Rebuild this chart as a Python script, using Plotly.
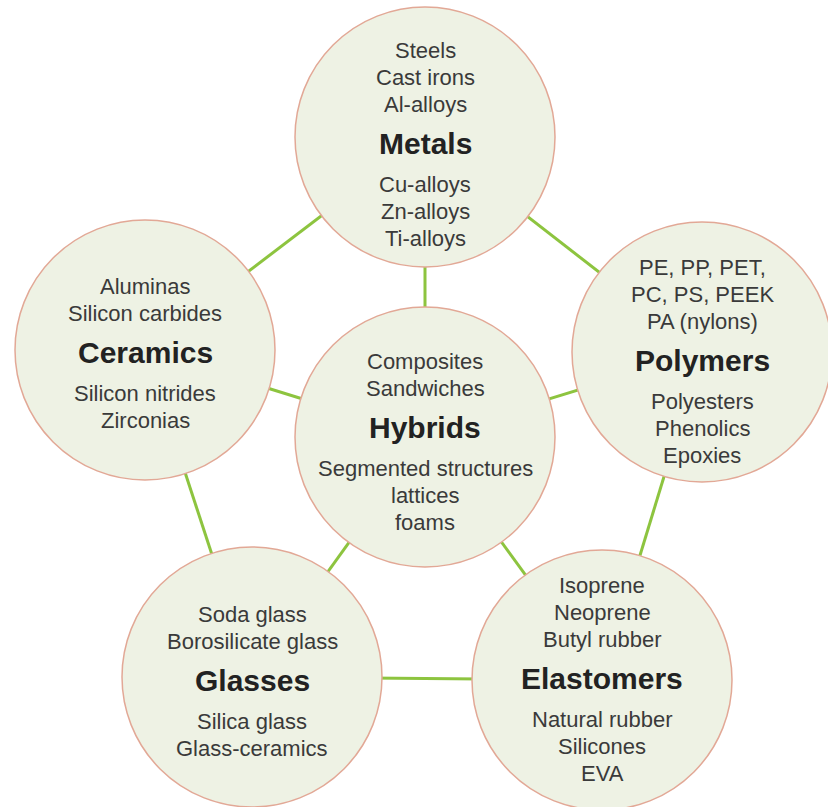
import plotly.graph_objects as go

# material families and example members
families = ["Metals", "Ceramics", "Polymers", "Hybrids", "Glasses", "Elastomers"]
items_above = [
    ["Steels", "Cast irons", "Al-alloys"],
    ["Aluminas", "Silicon carbides"],
    ["PE, PP, PET,", "PC, PS, PEEK", "PA (nylons)"],
    ["Composites", "Sandwiches"],
    ["Soda glass", "Borosilicate glass"],
    ["Isoprene", "Neoprene", "Butyl rubber"],
]
items_below = [
    ["Cu-alloys", "Zn-alloys", "Ti-alloys"],
    ["Silicon nitrides", "Zirconias"],
    ["Polyesters", "Phenolics", "Epoxies"],
    ["Segmented structures", "lattices", "foams"],
    ["Silica glass", "Glass-ceramics"],
    ["Natural rubber", "Silicones", "EVA"],
]
links = [
    ("Metals", "Ceramics"), ("Metals", "Polymers"), ("Metals", "Hybrids"),
    ("Ceramics", "Hybrids"), ("Polymers", "Hybrids"), ("Ceramics", "Glasses"),
    ("Polymers", "Elastomers"), ("Glasses", "Elastomers"),
    ("Hybrids", "Glasses"), ("Hybrids", "Elastomers"),
]

# layout of the diagram (pixel-like coordinates, y downwards)
centers = {
    "Metals": (425, 137), "Ceramics": (145, 350), "Polymers": (702, 352),
    "Hybrids": (425, 437), "Glasses": (252, 677), "Elastomers": (602, 680),
}
title_dy = {"Metals": 6, "Ceramics": 2, "Polymers": 8, "Hybrids": -10, "Glasses": 3, "Elastomers": -2}
R = 130
LINE = 27
GREEN = "#8dc43f"
FILL = "#eef2e4"
EDGE = "#e2a896"
FONT = "Liberation Sans, Arial, sans-serif"

fig = go.Figure()

# connector lines first, circles drawn over them
for a, b in links:
    (x0, y0), (x1, y1) = centers[a], centers[b]
    fig.add_trace(go.Scatter(x=[x0, x1], y=[y0, y1], mode="lines",
                             line=dict(color=GREEN, width=3), hoverinfo="skip", showlegend=False))

shapes = []
for name in families:
    cx, cy = centers[name]
    shapes.append(dict(type="circle", xref="x", yref="y", layer="above",
                       x0=cx - R, x1=cx + R, y0=cy - R, y1=cy + R,
                       fillcolor=FILL, line=dict(color=EDGE, width=1.5)))

annotations = []
for name, above, below in zip(families, items_above, items_below):
    cx, cy = centers[name]
    ty = cy + title_dy[name]
    annotations.append(dict(x=cx, y=ty, text="<b>" + name + "</b>", showarrow=False,
                            xref="x", yref="y", yanchor="middle",
                            font=dict(family=FONT, size=30, color="#222222")))
    for k, t in enumerate(reversed(above)):
        annotations.append(dict(x=cx, y=ty - 39 - LINE * k, text=t, showarrow=False,
                                xref="x", yref="y", yanchor="middle",
                                font=dict(family=FONT, size=22, color="#3a3a3a")))
    for k, t in enumerate(below):
        annotations.append(dict(x=cx, y=ty + 41 + LINE * k, text=t, showarrow=False,
                                xref="x", yref="y", yanchor="middle",
                                font=dict(family=FONT, size=22, color="#3a3a3a")))

fig.update_layout(
    width=828, height=807,
    margin=dict(l=0, r=0, t=0, b=0),
    paper_bgcolor="white", plot_bgcolor="white",
    shapes=shapes, annotations=annotations,
    xaxis=dict(range=[0, 828], visible=False, fixedrange=True),
    yaxis=dict(range=[807, 0], visible=False, fixedrange=True),
    showlegend=False,
)

# the page body has a default margin; drop it so the figure fills the window
fig.write_html("out.html", config={"displayModeBar": False},
               post_script="document.body.style.margin='0';")
